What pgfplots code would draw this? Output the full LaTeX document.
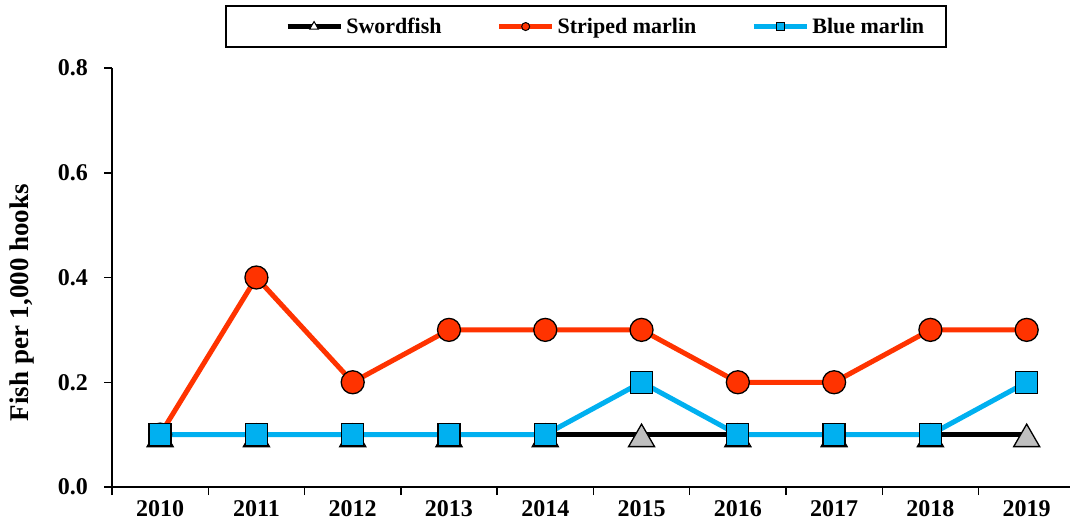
\documentclass[border=0pt]{standalone}
\usepackage{fontspec}
\setmainfont{Liberation Serif}
\usepackage{pgfplots}
\pgfplotsset{compat=1.18}
\definecolor{sred}{HTML}{FF3300}
\definecolor{bblue}{HTML}{00B0F0}
\definecolor{tgray}{HTML}{BFBFBF}
\begin{document}
\begin{tikzpicture}[x=1pt,y=1pt]
\useasboundingbox (0,0) rectangle (1070,525);
\begin{axis}[
  at={(112pt,38pt)}, anchor=south west,
  scale only axis, width=958pt, height=419pt,
  xmin=-0.5, xmax=9.45, ymin=0, ymax=0.8,
  axis x line*=bottom, axis y line*=left,
  axis line style={line width=1.5pt, black},
  x axis line style={shorten <=-8pt},
  major tick length=0pt, minor tick length=8pt, tick align=outside,
  tick style={line width=1.5pt, black},
  xtick={0,1,2,3,4,5,6,7,8,9},
  xticklabels={2010,2011,2012,2013,2014,2015,2016,2017,2018,2019},
  minor xtick={-0.5,0.5,1.5,2.5,3.5,4.5,5.5,6.5,7.5,8.5},
  ytick={0,0.2,0.4,0.6,0.8},
  yticklabels={0.0,0.2,0.4,0.6,0.8},
  minor ytick={0,0.2,0.4,0.6,0.8},
  tick label style={font=\fontsize{24}{24}\selectfont\bfseries},
  xticklabel style={inner sep=0pt, anchor=north, yshift=-13pt},
  yticklabel style={inner sep=0pt, anchor=east, xshift=-24pt},
  ylabel={Fish per 1,000 hooks},
  ylabel style={at={(axis description cs:-0.094,0.44)}, anchor=center, font=\fontsize{27}{27}\selectfont\bfseries},
  clip=false,
  legend columns=3,
  legend style={at={(axis description cs:0.4948,1.150)}, anchor=north, draw=black, line width=1.8pt,
    inner xsep=19pt, inner ysep=9pt, font=\fontsize{22}{22}\selectfont\bfseries,
    nodes={inner sep=3pt},
    /tikz/every even column/.append style={column sep=12pt}},
  legend image code/.code={\path (-40pt,0pt); \draw[mark repeat=2,mark phase=2,#1] plot coordinates {(0pt,0pt) (26.5pt,0pt) (53pt,0pt)};},
]
\addplot[black, line width=5.5pt, mark=triangle*, mark size=15pt,
  mark options={fill=tgray, draw=black, line width=1.3pt, yshift=-4.5pt},
  legend image post style={mark size=5pt, mark options={fill=white, draw=black, line width=1pt}}]
  coordinates {(0,0.1) (1,0.1) (2,0.1) (3,0.1) (4,0.1) (5,0.1) (6,0.1) (7,0.1) (8,0.1) (9,0.1)};
\addlegendentry{Swordfish}
\addplot[sred, line width=5pt, mark=*, mark size=11.5pt,
  mark options={fill=sred, draw=black, line width=1.3pt},
  legend image post style={mark size=4pt, mark options={fill=sred, draw=black, line width=1pt}}]
  coordinates {(0,0.1) (1,0.4) (2,0.2) (3,0.3) (4,0.3) (5,0.3) (6,0.2) (7,0.2) (8,0.3) (9,0.3)};
\addlegendentry{Striped marlin}
\addplot[bblue, line width=5pt, mark=square*, mark size=11pt,
  mark options={fill=bblue, draw=black, line width=1.3pt},
  legend image post style={mark size=4pt, mark options={fill=bblue, draw=black, line width=1pt}}]
  coordinates {(0,0.1) (1,0.1) (2,0.1) (3,0.1) (4,0.1) (5,0.2) (6,0.1) (7,0.1) (8,0.1) (9,0.2)};
\addlegendentry{Blue marlin}
\end{axis}
\end{tikzpicture}
\end{document}
